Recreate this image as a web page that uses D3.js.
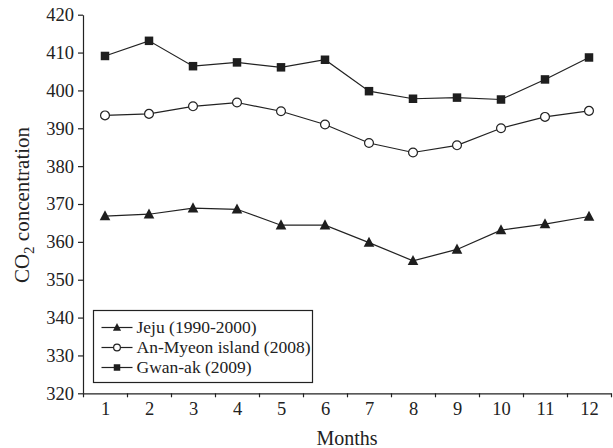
<!DOCTYPE html>
<html lang="en">
<head>
<meta charset="utf-8">
<title>CO2 concentration</title>
<script src="https://cdn.jsdelivr.net/npm/d3@7"></script>
<style>
  body { margin: 0; background: #fff; }
  svg text { font-family: "Liberation Serif", "DejaVu Serif", serif; fill: #222; }
  .axis path, .axis line { stroke: #222; stroke-width: 1.2; }
</style>
</head>
<body>
<div id="chart"></div>
<script>
// data
var months = [1, 2, 3, 4, 5, 6, 7, 8, 9, 10, 11, 12];
var jeju   = [366.8, 367.3, 368.9, 368.6, 364.4, 364.4, 359.8, 355.0, 358.0, 363.1, 364.7, 366.7];
var anmyeon = [393.4, 393.8, 395.8, 396.8, 394.5, 391.0, 386.1, 383.6, 385.5, 390.0, 393.0, 394.6];
var gwanak = [409.1, 413.1, 406.4, 407.4, 406.1, 408.1, 399.8, 397.8, 398.1, 397.6, 402.9, 408.7];
var yTicks = [320, 330, 340, 350, 360, 370, 380, 390, 400, 410, 420];

var series = [
  { name: "Jeju (1990-2000)", values: jeju, marker: "triangle" },
  { name: "An-Myeon island (2008)", values: anmyeon, marker: "circle" },
  { name: "Gwan-ak (2009)", values: gwanak, marker: "square" }
];

var w = 613, h = 448;
var padL = 83, padR = 611, padT = 14.7, padB = 393.3;

var svg = d3.select("#chart").append("svg").attr("width", w).attr("height", h);

var x = d3.scaleLinear().domain([0.5, 12.5]).range([padL, padR]);
var y = d3.scaleLinear().domain([320, 420]).range([padB, padT]);

// y axis
var gy = svg.append("g").attr("class", "axis")
  .attr("transform", "translate(" + padL + ",0)")
  .call(d3.axisLeft(y).tickValues(yTicks).tickSize(5).tickPadding(4).tickSizeOuter(0));
gy.selectAll("text").style("font-size", "18.5px");

// x axis: ticks between months, labels at months
var gx = svg.append("g").attr("class", "axis")
  .attr("transform", "translate(0," + padB + ")")
  .call(d3.axisBottom(x).tickValues(d3.range(0.5, 13, 1)).tickSize(4).tickFormat("").tickSizeOuter(0));

var gxl = svg.append("g")
  .attr("transform", "translate(0," + padB + ")")
  .call(d3.axisBottom(x).tickValues(months).tickSize(0).tickPadding(9));
gxl.select(".domain").remove();
gxl.selectAll("text").style("font-size", "18.5px");

// axis titles
svg.append("text")
  .attr("x", 347).attr("y", 444.5)
  .attr("text-anchor", "middle")
  .style("font-size", "20px")
  .text("Months");

var yl = svg.append("text")
  .attr("transform", "translate(29,205) rotate(-90)")
  .attr("text-anchor", "middle")
  .style("font-size", "21px");
yl.append("tspan").text("CO");
yl.append("tspan").attr("dy", 5).style("font-size", "15px").text("2");
yl.append("tspan").attr("dy", -5).text(" concentration");

var line = d3.line()
  .x(function(d, i) { return x(months[i]); })
  .y(function(d) { return y(d); });

function drawMarker(g, type, size) {
  if (type === "circle") {
    g.append("circle").attr("r", size * 0.52).attr("fill", "#fff").attr("stroke", "#222").attr("stroke-width", 1.2);
  } else if (type === "square") {
    g.append("rect").attr("x", -size / 2).attr("y", -size / 2).attr("width", size).attr("height", size).attr("fill", "#1e1e1e");
  } else {
    var s = size * 1.25;
    g.append("path")
      .attr("d", "M0," + (-s * 0.55) + "L" + (s / 2) + "," + (s * 0.4) + "L" + (-s / 2) + "," + (s * 0.4) + "Z")
      .attr("fill", "#1e1e1e");
  }
}

series.forEach(function(s) {
  svg.append("path")
    .datum(s.values)
    .attr("d", line)
    .attr("fill", "none")
    .attr("stroke", "#222")
    .attr("stroke-width", 1.2);

  svg.selectAll(null)
    .data(s.values)
    .enter()
    .append("g")
    .attr("transform", function(d, i) { return "translate(" + x(months[i]) + "," + y(d) + ")"; })
    .each(function() { drawMarker(d3.select(this), s.marker, 8.5); });
});

// legend
var legend = svg.append("g").attr("transform", "translate(93.5,310.5)");
legend.append("rect")
  .attr("width", 219).attr("height", 72)
  .attr("fill", "#fff").attr("stroke", "#222").attr("stroke-width", 1.2);

series.forEach(function(s, i) {
  var row = legend.append("g").attr("transform", "translate(0," + (17 + i * 20) + ")");
  row.append("line").attr("x1", 8).attr("x2", 39).attr("y1", 0).attr("y2", 0)
    .attr("stroke", "#222").attr("stroke-width", 1.2);
  var m = row.append("g").attr("transform", "translate(23.5,0)");
  drawMarker(m, s.marker, 6.5);
  row.append("text").attr("x", 43).attr("y", 5.5)
    .style("font-size", "17.5px")
    .text(s.name);
});
</script>
</body>
</html>
